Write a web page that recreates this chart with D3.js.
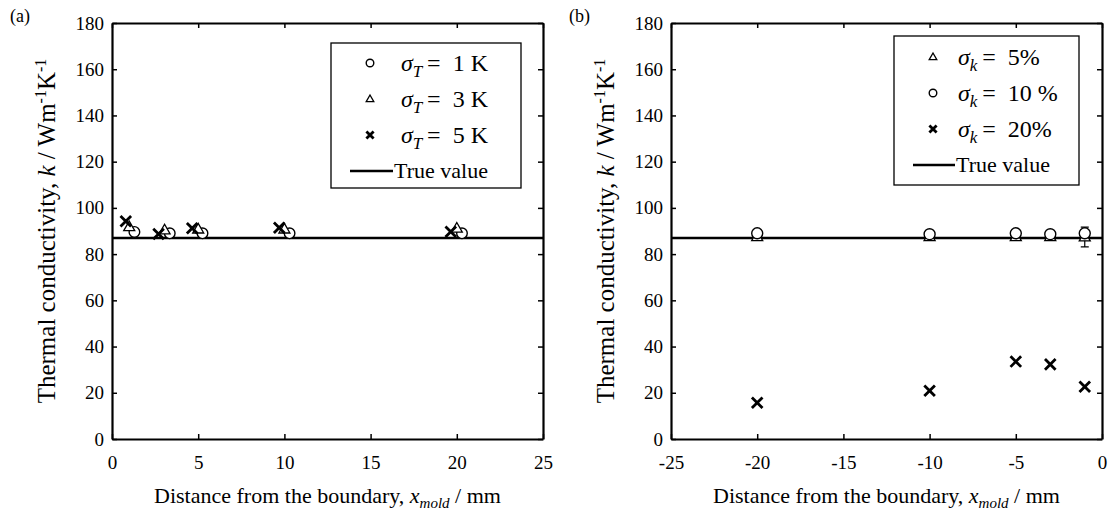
<!DOCTYPE html>
<html lang="en">
<head>
<meta charset="utf-8">
<title>Thermal conductivity vs distance from the boundary</title>
<script src="https://d3js.org/d3.v7.min.js"></script>
<style>
  body { margin: 0; background: #fff; }
</style>
</head>
<body>
<script>
// ---- data ----
var yTicks = [0, 20, 40, 60, 80, 100, 120, 140, 160, 180];
var xTicksA = [0, 5, 10, 15, 20, 25];
var xTicksB = [-25, -20, -15, -10, -5, 0];
var trueK = 87;

// (a) temperature noise; the three series are plotted slightly apart at 1,3,5,10,20 mm
var a1x = [1.3, 3.35, 5.25, 10.3, 20.3];
var a1y = [89.6, 89, 89, 89, 89];
var a3x = [1.0, 3.05, 5.0, 10.0, 20.0];
var a3y = [91.8, 90.4, 90.8, 90.8, 91.2];
var a5x = [0.8, 2.7, 4.65, 9.7, 19.65];
var a5y = [94.2, 88.7, 91.2, 91.4, 89.7];

// (b) conductivity noise
var distB = [-20, -10, -5, -3, -1];
var b5y = [87.5, 87.5, 87.5, 87.5, 87.4];
var b5err = [0.8, 0.8, 0.8, 0.8, 4.3];
var b10y = [89, 88.6, 89, 88.6, 89];
var b20y = [15.7, 20.9, 33.5, 32.3, 22.6];

// ---- drawing ----
var SERIF = "Liberation Serif";

var svg = d3.select("body").append("svg")
    .attr("width", 1113)
    .attr("height", 512)
    .style("font-family", SERIF);

var W = 431, H = 416;

function marker(g, type, cx, cy, s) {
    if (type == "circle") {
        g.append("circle").attr("cx", cx).attr("cy", cy).attr("r", s)
            .attr("fill", "#fff").attr("stroke", "#000").attr("stroke-width", 1.4);
    } else if (type == "tri") {
        g.append("path").attr("transform", "translate(" + cx + "," + cy + ")")
            .attr("d", "M0," + (-s * 1.05) + "L" + s + "," + (s * 0.7) + "L" + (-s) + "," + (s * 0.7) + "Z")
            .attr("fill", "#fff").attr("stroke", "#000").attr("stroke-width", 1.3);
    } else {
        g.append("path").attr("transform", "translate(" + cx + "," + cy + ")")
            .attr("d", "M" + (-s) + "," + (-s) + "L" + s + "," + s + "M" + (-s) + "," + s + "L" + s + "," + (-s))
            .attr("fill", "none").attr("stroke", "#000").attr("stroke-width", 2.8);
    }
}

function drawPanel(opt) {
    var g = svg.append("g").attr("transform", "translate(" + opt.left + ",23)");
    var x = d3.scaleLinear().domain(opt.xDomain).range([0, W]);
    var y = d3.scaleLinear().domain([0, 180]).range([H, 0]);

    var axes = [
        g.append("g").attr("transform", "translate(0," + H + ")")
            .call(d3.axisBottom(x).tickValues(opt.xTicks).tickSize(-5).tickSizeOuter(0)
                .tickPadding(17).tickFormat(function(d) { return String(d); })),
        g.append("g")
            .call(d3.axisTop(x).tickValues(opt.xTicks).tickSize(-5).tickSizeOuter(0).tickFormat("")),
        g.append("g")
            .call(d3.axisLeft(y).tickValues(yTicks).tickSize(-5).tickSizeOuter(0).tickPadding(8)),
        g.append("g").attr("transform", "translate(" + W + ",0)")
            .call(d3.axisRight(y).tickValues(yTicks).tickSize(-5).tickSizeOuter(0).tickFormat(""))
    ];
    axes.forEach(function(a) {
        a.attr("font-family", null).attr("font-size", null);
        a.select(".domain").attr("stroke-width", 2.2);
        a.selectAll(".tick line").attr("stroke-width", 1.5);
        a.selectAll(".tick text").style("font-size", "19px");
    });

    // true value line
    g.append("line")
        .attr("x1", 0).attr("x2", W)
        .attr("y1", y(trueK)).attr("y2", y(trueK))
        .attr("stroke", "#000").attr("stroke-width", 2.6);

    opt.series.forEach(function(s) {
        s.xs.forEach(function(xv, i) {
            if (s.err) {
                var e = s.err[i];
                g.append("path")
                    .attr("d", "M" + x(xv) + "," + y(s.ys[i] - e) + "V" + y(s.ys[i] + e)
                        + "M" + (x(xv) - 4) + "," + y(s.ys[i] - e) + "h8"
                        + "M" + (x(xv) - 4) + "," + y(s.ys[i] + e) + "h8")
                    .attr("stroke", "#000").attr("stroke-width", 1.2).attr("fill", "none");
            }
            marker(g, s.type, x(xv), y(s.ys[i]), s.size);
        });
    });

    // legend
    var L = opt.legend;
    var lg = g.append("g").attr("transform", "translate(" + L.x + "," + L.y + ")");
    lg.append("rect").attr("width", L.w).attr("height", L.h)
        .attr("fill", "#fff").attr("stroke", "#000").attr("stroke-width", 1.3);
    L.items.forEach(function(it, i) {
        var cy = L.first + i * L.step;
        if (it.type == "line") {
            lg.append("line").attr("x1", L.lineX1).attr("x2", L.lineX2)
                .attr("y1", cy).attr("y2", cy)
                .attr("stroke", "#000").attr("stroke-width", 2.6);
            lg.append("text").attr("x", L.lineX2 + 1).attr("y", cy + 7)
                .style("font-size", "22px").text(it.label);
        } else {
            marker(lg, it.type, L.markX, cy, it.type == "cross" ? 3.6 : 3.8);
            var t = lg.append("text").attr("x", L.textX).attr("y", cy + 8).style("font-size", "24px");
            t.append("tspan").style("font-style", "italic").text("\u03c3");
            t.append("tspan").style("font-style", "italic").style("font-size", "17px")
                .attr("dy", 6).text(opt.sub);
            t.append("tspan").attr("dy", -6).text("\u2009=\u00a0\u00a0" + it.label);
        }
    });

    // panel letter
    svg.append("text").attr("x", opt.left - 102).attr("y", 22)
        .style("font-size", "18px").text(opt.letter);

    // x title
    var xt = g.append("text").attr("x", W / 2).attr("y", H + 64)
        .attr("text-anchor", "middle").style("font-size", "22px");
    xt.append("tspan").text("Distance from the boundary, ");
    xt.append("tspan").style("font-style", "italic").text("x");
    xt.append("tspan").style("font-style", "italic").style("font-size", "15px").attr("dy", 5).text("mold");
    xt.append("tspan").attr("dy", -5).text(" / mm");

    // y title
    var yt = g.append("text")
        .attr("transform", "translate(-57," + (H / 2) + ") rotate(-90)")
        .attr("text-anchor", "middle").style("font-size", "25px");
    yt.append("tspan").text("Thermal conductivity, ");
    yt.append("tspan").style("font-style", "italic").text("k");
    yt.append("tspan").text(" / Wm");
    yt.append("tspan").style("font-size", "16px").attr("dy", -9).text("-1");
    yt.append("tspan").attr("dy", 9).text("K");
    yt.append("tspan").style("font-size", "16px").attr("dy", -9).text("-1");
}

drawPanel({
    left: 112,
    letter: "(a)",
    xDomain: [0, 25],
    xTicks: xTicksA,
    sub: "T",
    series: [
        { xs: a1x, ys: a1y, type: "circle", size: 5.3 },
        { xs: a3x, ys: a3y, type: "tri", size: 5.5 },
        { xs: a5x, ys: a5y, type: "cross", size: 5.3 }
    ],
    legend: {
        x: 219, y: 20, w: 190, h: 145, first: 20, step: 36,
        markX: 39, textX: 70, lineX1: 19, lineX2: 62,
        items: [
            { type: "circle", label: "1 K" },
            { type: "tri", label: "3 K" },
            { type: "cross", label: "5 K" },
            { type: "line", label: "True value" }
        ]
    }
});

drawPanel({
    left: 671,
    letter: "(b)",
    xDomain: [-25, 0],
    xTicks: xTicksB,
    sub: "k",
    series: [
        { xs: distB, ys: b5y, err: b5err, type: "tri", size: 5.5 },
        { xs: distB, ys: b10y, type: "circle", size: 5.5 },
        { xs: distB, ys: b20y, type: "cross", size: 5.3 }
    ],
    legend: {
        x: 223, y: 13, w: 185, h: 149, first: 21, step: 36,
        markX: 39, textX: 64, lineX1: 19, lineX2: 61,
        items: [
            { type: "tri", label: "5%" },
            { type: "circle", label: "10 %" },
            { type: "cross", label: "20%" },
            { type: "line", label: "True value" }
        ]
    }
});

// make sure every label uses the serif face
svg.selectAll("text").style("font-family", SERIF).attr("fill", "#000");
</script>
</body>
</html>
